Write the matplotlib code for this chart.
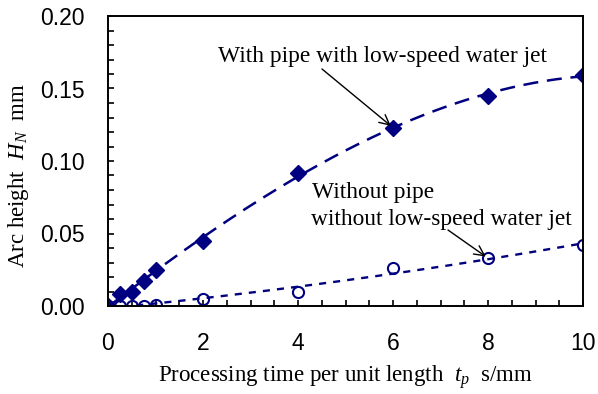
import numpy as np
import matplotlib
matplotlib.use("Agg")
import matplotlib.pyplot as plt
from matplotlib.ticker import MultipleLocator, FormatStrFormatter

plt.rcParams["mathtext.fontset"] = "custom"
plt.rcParams["mathtext.rm"] = "Liberation Serif"
plt.rcParams["mathtext.it"] = "Liberation Serif:italic"

# Processing time per unit length (s/mm)
tp = [0, 0.25, 0.5, 0.75, 1, 2, 4, 6, 8, 10]
# Arc height with pipe and low-speed water jet (mm)
h_with = [0, 0.0083, 0.0094, 0.017, 0.025, 0.045, 0.092, 0.123, 0.145, 0.159]
# Arc height without pipe / without low-speed water jet (mm)
h_without = [0, 0.0, 0.0, 0.0, 0.0007, 0.005, 0.0099, 0.026, 0.033, 0.042]

navy = "#000080"
serif = "Liberation Serif"
sans = "Liberation Sans"
W, H = 598, 394

fig = plt.figure(figsize=(W / 100, H / 100), dpi=100)
ax = fig.add_axes([108 / W, 1 - 306 / H, 475 / W, 290 / H])

# polynomial trend lines
xs = np.linspace(0, 10, 300)
c_with = np.polyfit(tp, h_with, 3)
c_without = np.polyfit(tp, h_without, 2)
ax.plot(xs, np.polyval(c_with, xs), color=navy, lw=1.8, dashes=(6, 3.5))
ax.plot(xs, np.polyval(c_without, xs), color=navy, lw=1.7, dashes=(3, 3))

ax.plot(tp, h_with, linestyle="none", marker="D", markersize=8.3,
        color=navy, markeredgecolor=navy)
ax.plot(tp, h_without, linestyle="none", marker="o", markersize=8,
        markerfacecolor="none", markeredgecolor=navy, markeredgewidth=1.5)

ax.set_xlim(0, 10)
ax.set_ylim(0, 0.20)
ax.xaxis.set_major_locator(MultipleLocator(2))
ax.xaxis.set_minor_locator(MultipleLocator(0.5))
ax.yaxis.set_major_locator(MultipleLocator(0.05))
ax.yaxis.set_minor_locator(MultipleLocator(0.01))
ax.yaxis.set_major_formatter(FormatStrFormatter("%.2f"))

for s in ax.spines.values():
    s.set_linewidth(1.4)
ax.tick_params(which="both", direction="in", length=4.2, width=1.2,
               top=False, right=False)
ax.tick_params(axis="x", which="major", pad=19)
ax.tick_params(axis="y", which="major", pad=17)
for t in ax.get_xticklabels() + ax.get_yticklabels():
    t.set_fontfamily(sans)
    t.set_fontsize(16.5)

ax.set_xlabel(r"Processing time per unit length  $t_p$  s/mm",
              fontfamily=serif, fontsize=16.5)
ax.xaxis.set_label_coords(0.5, -(382 - 306) / 290)
ax.xaxis.label.set_va("baseline")
ax.set_ylabel(r"Arc height  $H_N$  mm", fontfamily=serif, fontsize=16.5)
ax.yaxis.set_label_coords(-(108 - 19) / 475, (306 - 176) / 290)
ax.yaxis.label.set_va("center")

arrow = dict(arrowstyle="->", color="black", lw=1.0,
             mutation_scale=18, shrinkA=0, shrinkB=2)
ax.annotate("", xy=(tp[7], h_with[7]), xytext=(322, H - 69),
            textcoords="figure pixels", arrowprops=arrow)
ax.annotate("", xy=(tp[8], h_without[8]), xytext=(448, H - 230),
            textcoords="figure pixels", arrowprops=arrow)

fig.text(383 / W, 1 - 62 / H, "With pipe with low-speed water jet",
         fontfamily=serif, fontsize=16.8, ha="center", va="baseline")
fig.text(312 / W, 1 - 198 / H, "Without pipe",
         fontfamily=serif, fontsize=16.8, ha="left", va="baseline")
fig.text(311 / W, 1 - 225 / H, "without low-speed water jet",
         fontfamily=serif, fontsize=16.8, ha="left", va="baseline")

fig.savefig("out.png", dpi=100)
